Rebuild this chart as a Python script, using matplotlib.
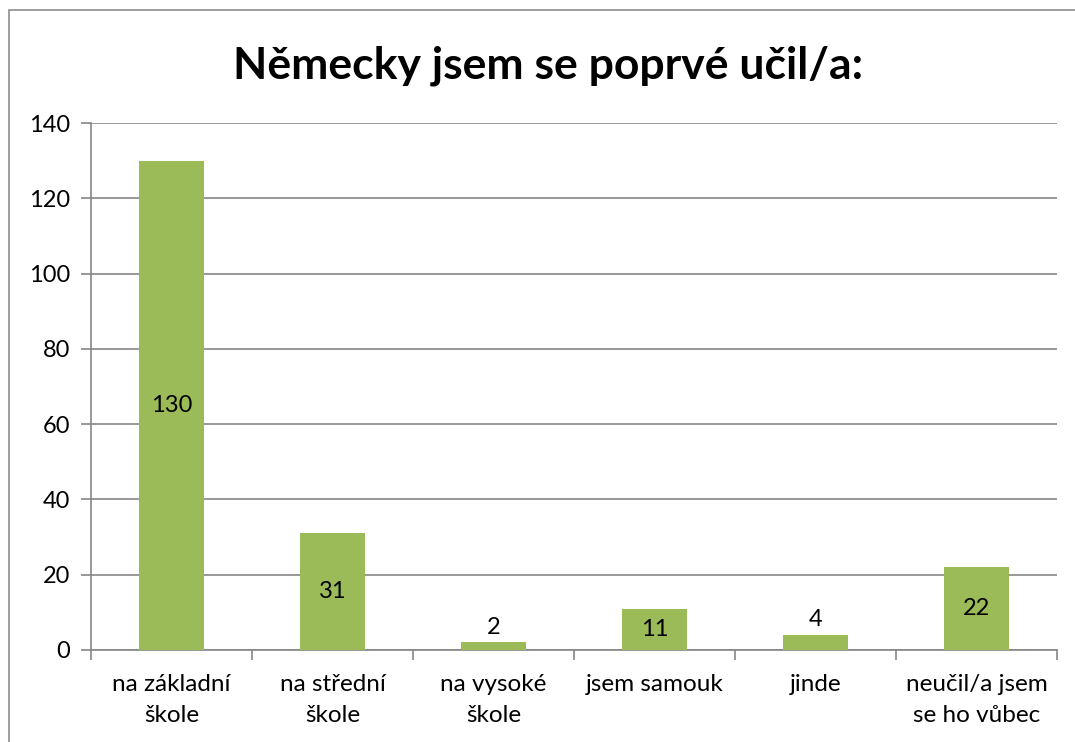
import matplotlib.pyplot as plt
from matplotlib.patches import Rectangle

# data
categories = ['na základní\nškole', 'na střední\nškole', 'na vysoké\nškole',
              'jsem samouk', 'jinde', 'neučil/a jsem\nse ho vůbec']
values = [130, 31, 2, 11, 4, 22]
label_above = [False, False, True, False, True, False]

plt.rcParams['font.family'] = ['Lato', 'DejaVu Sans']

fig = plt.figure(figsize=(10.75, 7.42), dpi=100)
ax = fig.add_axes([91 / 1075, 1 - 650 / 742, (1057 - 91) / 1075, (650 - 123) / 742])

# outer chart border (runs off the right and bottom edges)
fig.patches.append(Rectangle((9 / 1075, -0.1), 1.2, 1 - 10 / 742 + 0.1, transform=fig.transFigure,
                             fill=False, edgecolor='#8c8c8c', linewidth=1.2))

x = range(len(values))
bars = ax.bar(x, values, width=0.4, color='#9BBB59', zorder=3)

for i, v in enumerate(values):
    if label_above[i]:
        ax.text(i, v + 1.2, str(v), ha='center', va='bottom', fontsize=17)
    else:
        ax.text(i, v / 2, str(v), ha='center', va='center', fontsize=17)

ax.set_xlim(-0.5, len(values) - 0.5)
ax.set_ylim(0, 140)
ax.set_yticks(range(0, 141, 20))
ax.yaxis.grid(True, color='#868686', linewidth=1.2, zorder=0)
ax.set_xticks([i - 0.5 for i in range(len(values) + 1)], minor=False)
ax.set_xticklabels([''] * (len(values) + 1))
ax.set_xticks(list(x), minor=True)
ax.set_xticklabels(categories, minor=True, fontsize=17.5, linespacing=1.6)
ax.tick_params(axis='x', which='minor', length=0, pad=17)
ax.tick_params(axis='x', which='major', length=7, color='#868686', width=1.2)
ax.tick_params(axis='y', length=7, color='#868686', width=1.2, labelsize=17, pad=8)

for s in ['top', 'right']:
    ax.spines[s].set_visible(False)
for s in ['left', 'bottom']:
    ax.spines[s].set_color('#868686')
    ax.spines[s].set_linewidth(1.2)

fig.text(548 / 1075, 1 - 66 / 742, 'Německy jsem se poprvé učil/a:', ha='center', va='center',
         fontsize=32, fontweight='bold')

fig.savefig('out.png', dpi=100)
